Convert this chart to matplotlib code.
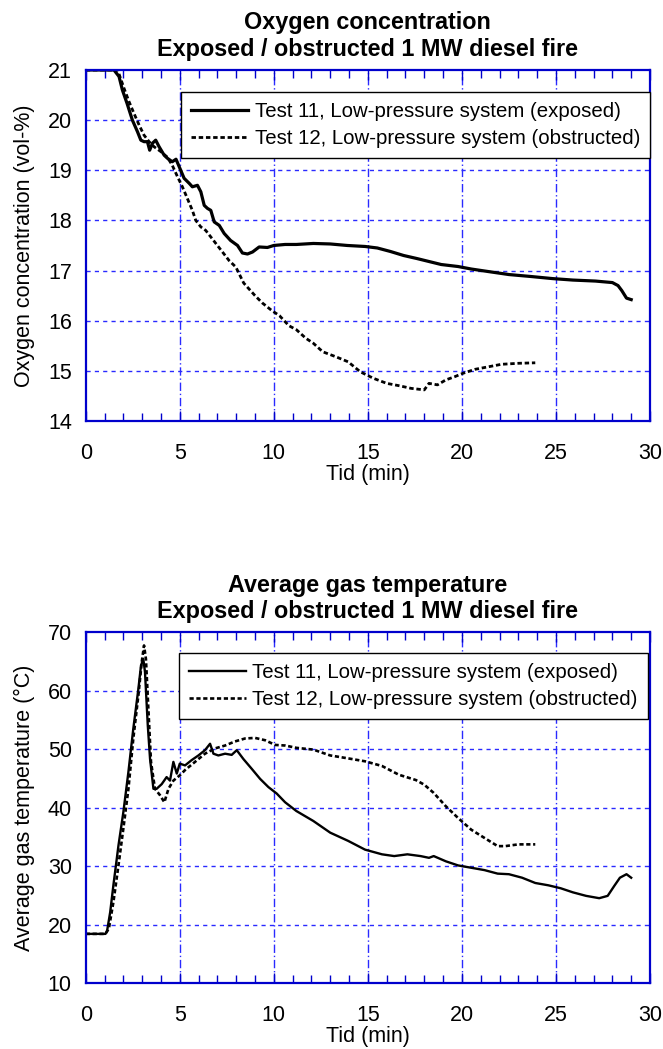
import matplotlib
matplotlib.use('agg')
import matplotlib.pyplot as plt
from matplotlib.ticker import MultipleLocator

plt.rcParams['font.family'] = ['Liberation Sans', 'DejaVu Sans']

# oxygen concentration, test 11 (exposed)
o2_t11_time = [0, 1.5, 1.77, 1.95, 2.2, 2.48, 2.75, 2.93, 3.1, 3.28, 3.4, 3.55, 3.72, 3.9,
               4.17, 4.34, 4.6, 4.8, 5.05, 5.23, 5.5, 5.67, 5.94, 6.12, 6.3, 6.47, 6.65,
               6.83, 7.1, 7.36, 7.7, 8.07, 8.33, 8.6, 8.87, 9.22, 9.66, 10.0, 10.6, 11.2,
               12.1, 13.0, 13.9, 14.85, 15.5, 16.2, 16.9, 17.6, 18.25, 18.9, 19.8, 20.5,
               21.4, 22.5, 23.7, 24.8, 25.9, 27.1, 28.0, 28.3, 28.5, 28.75, 29.0]
o2_t11 = [21.0, 21.0, 20.87, 20.6, 20.33, 20.0, 19.77, 19.6, 19.57, 19.57, 19.4, 19.54, 19.6,
          19.47, 19.3, 19.24, 19.17, 19.22, 19.0, 18.84, 18.74, 18.67, 18.7, 18.57, 18.3,
          18.24, 18.2, 17.97, 17.9, 17.74, 17.6, 17.5, 17.35, 17.33, 17.37, 17.47, 17.46,
          17.5, 17.52, 17.52, 17.54, 17.53, 17.5, 17.48, 17.45, 17.38, 17.3, 17.24, 17.18,
          17.12, 17.08, 17.03, 16.98, 16.92, 16.88, 16.84, 16.81, 16.79, 16.76, 16.7, 16.6,
          16.45, 16.42]

# oxygen concentration, test 12 (obstructed)
o2_t12_time = [0, 1.7, 1.77, 2.04, 2.3, 2.57, 2.84, 3.1, 3.37, 3.63, 4.0, 4.34, 4.6, 4.88,
               5.14, 5.4, 5.67, 5.85, 6.12, 6.38, 6.65, 7.0, 7.27, 7.62, 7.98, 8.4, 9.0,
               9.4, 9.9, 10.3, 10.8, 11.2, 11.7, 12.1, 12.6, 13.3, 13.95, 14.6, 15.3, 16.0,
               16.7, 17.3, 18.0, 18.25, 18.7, 19.15, 19.6, 20.05, 20.7, 21.4, 22.1, 23.0, 23.9]
o2_t12 = [21.0, 21.0, 20.92, 20.63, 20.37, 20.13, 19.9, 19.7, 19.57, 19.47, 19.37, 19.26,
          19.1, 18.87, 18.67, 18.44, 18.2, 18.0, 17.87, 17.8, 17.67, 17.5, 17.37, 17.2,
          17.07, 16.75, 16.5, 16.35, 16.2, 16.1, 15.9, 15.82, 15.65, 15.55, 15.38, 15.28,
          15.18, 14.98, 14.85, 14.75, 14.7, 14.65, 14.62, 14.75, 14.72, 14.82, 14.88, 14.95,
          15.03, 15.08, 15.13, 15.15, 15.16]

# average gas temperature, test 11 (exposed)
temp_t11_time = [0, 1.05, 1.14, 1.3, 1.47, 1.74, 2.0, 2.27, 2.53, 2.8, 2.94, 3.06, 3.15, 3.3,
                 3.42, 3.6, 3.77, 4.04, 4.3, 4.48, 4.66, 4.84, 5.0, 5.28, 5.63, 5.99, 6.34,
                 6.61, 6.79, 7.05, 7.41, 7.76, 8.03, 8.38, 8.83, 9.27, 9.71, 10.15, 10.6,
                 11.2, 12.1, 13.0, 13.95, 14.85, 15.75, 16.4, 17.1, 17.8, 18.25, 18.5, 19.15,
                 19.8, 20.5, 21.2, 21.9, 22.5, 23.2, 23.9, 24.6, 25.25, 25.9, 26.6, 27.3,
                 27.75, 28.1, 28.4, 28.75, 29.0]
temp_t11 = [18.4, 18.4, 19.0, 22.1, 26.7, 33.5, 39.2, 46.1, 53.5, 60.3, 64.3, 65.4, 63.2, 54.0,
            48.3, 43.2, 43.2, 44.0, 45.2, 44.6, 47.8, 45.8, 47.5, 47.2, 48.1, 48.9, 49.8,
            50.9, 49.2, 48.9, 49.2, 49.0, 49.8, 48.3, 46.6, 44.9, 43.5, 42.4, 40.9, 39.4,
            37.7, 35.7, 34.3, 32.8, 32.0, 31.7, 32.0, 31.7, 31.4, 31.7, 30.8, 30.1, 29.7,
            29.3, 28.7, 28.6, 28.0, 27.1, 26.7, 26.2, 25.5, 24.9, 24.5, 24.9, 26.6, 28.0,
            28.6, 28.0]

# average gas temperature, test 12 (obstructed)
temp_t12_time = [0, 1.05, 1.23, 1.47, 1.74, 2.0, 2.27, 2.53, 2.8, 2.98, 3.1, 3.2, 3.33, 3.47,
                 3.68, 3.95, 4.18, 4.4, 4.66, 5.0, 5.28, 5.81, 6.34, 6.87, 7.41, 7.94, 8.47,
                 9.0, 9.54, 10.07, 10.6, 11.2, 12.1, 13.0, 13.95, 14.85, 15.75, 16.65, 17.55,
                 18.0, 18.5, 19.15, 19.8, 20.5, 21.2, 21.9, 22.3, 23.0, 23.9]
temp_t12 = [18.4, 18.4, 19.3, 23.8, 30.1, 36.4, 43.2, 51.8, 59.2, 64.9, 67.7, 65.4, 56.9, 47.8,
            43.2, 42.1, 40.9, 43.2, 44.6, 45.5, 46.4, 47.8, 49.2, 50.1, 50.6, 51.3, 51.8,
            51.9, 51.5, 50.7, 50.6, 50.2, 49.9, 48.9, 48.4, 47.9, 47.1, 45.6, 44.7, 43.9,
            42.5, 40.2, 38.2, 36.2, 34.8, 33.4, 33.4, 33.7, 33.7]

label_11 = "Test 11, Low-pressure system (exposed)"
label_12 = "Test 12, Low-pressure system (obstructed)"
grid_blue = '#2a2aff'
spine_blue = '#0000cc'
dotted = (0, (1.6, 1.0))


def style_axes(ax, ymin, ymax, ystep, title, ylabel):
    ax.set_xlim(0, 30)
    ax.set_ylim(ymin, ymax)
    ax.xaxis.set_major_locator(MultipleLocator(5))
    ax.xaxis.set_minor_locator(MultipleLocator(1))
    ax.yaxis.set_major_locator(MultipleLocator(ystep))
    ax.tick_params(axis='x', which='both', direction='in', top=True, colors=spine_blue,
                   labelcolor='black', labelsize=15.5, pad=16)
    ax.tick_params(axis='x', which='major', length=7, width=1)
    ax.tick_params(axis='x', which='minor', length=6, width=1)
    ax.tick_params(axis='y', which='both', length=0, labelsize=15.5, pad=10)
    for sp in ax.spines.values():
        sp.set_color(spine_blue)
        sp.set_linewidth(1.6)
    for y in range(ymin + ystep, ymax, ystep):
        ax.axhline(y, color=grid_blue, lw=1.0, ls=(0, (3, 3)), zorder=0)
    for x in range(5, 30, 5):
        ax.axvline(x, color=grid_blue, lw=1.0, ls=(0, (6, 2, 1, 2)), zorder=0)
    ax.set_title(title, fontsize=16.8, fontweight='bold', pad=10, linespacing=1.2)
    ax.set_xlabel("Tid (min)", fontsize=15.5, labelpad=0)
    ax.set_ylabel(ylabel, fontsize=15.5, labelpad=9)


fig = plt.figure(figsize=(6.63, 10.49), dpi=100)
ax1 = fig.add_axes([0.1293, 0.5987, 0.8511, 0.3346])
ax2 = fig.add_axes([0.1293, 0.0629, 0.8511, 0.3346])

ax1.plot(o2_t11_time, o2_t11, color='black', lw=2.3, label=label_11)
ax1.plot(o2_t12_time, o2_t12, color='black', lw=2.0, ls=dotted, label=label_12)
style_axes(ax1, 14, 21, 1, "Oxygen concentration\nExposed / obstructed 1 MW diesel fire",
           "Oxygen concentration (vol-%)")

ax2.plot(temp_t11_time, temp_t11, color='black', lw=1.7, label=label_11)
ax2.plot(temp_t12_time, temp_t12, color='black', lw=1.9, ls=dotted, label=label_12)
style_axes(ax2, 10, 70, 10, "Average gas temperature\nExposed / obstructed 1 MW diesel fire",
           "Average gas temperature (°C)")

for ax, x0, ytop in [(ax1, 0.169, 0.938), (ax2, 0.165, 0.940)]:
    leg = ax.legend(loc='upper left', bbox_to_anchor=(x0, ytop), borderaxespad=0,
                    fontsize=14.7, handlelength=2.8, handletextpad=0.3,
                    labelspacing=0.38, borderpad=0.5, fancybox=False, framealpha=1)
    leg.get_frame().set_edgecolor('black')
    leg.get_frame().set_linewidth(1.0)

fig.savefig("out.png", dpi=100)
